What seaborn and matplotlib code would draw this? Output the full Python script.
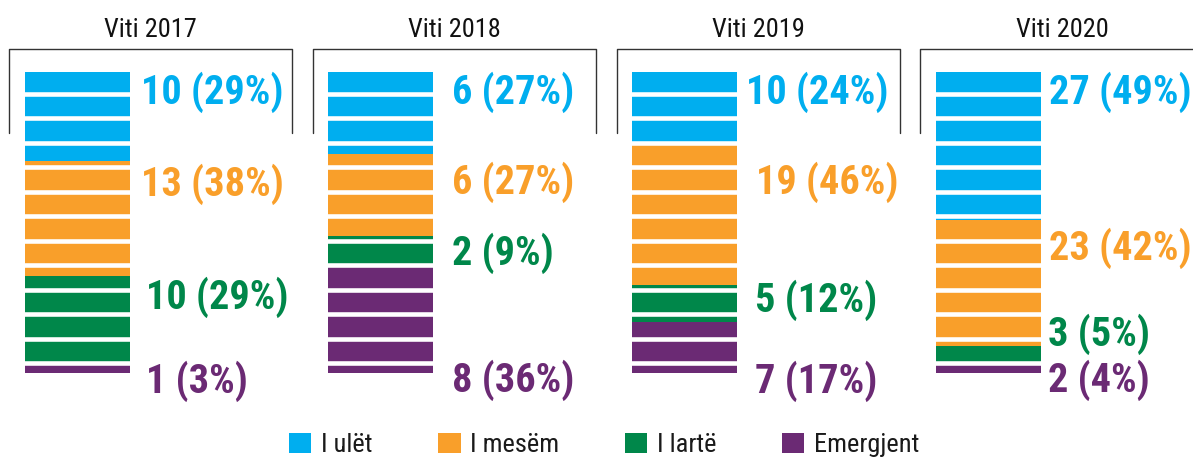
import matplotlib
matplotlib.use("Agg")
import matplotlib.pyplot as plt
import seaborn as sns
import pandas as pd
from matplotlib import font_manager

# data
years = ["Viti 2017", "Viti 2018", "Viti 2019", "Viti 2020"]
levels = ["I ulët", "I mesëm", "I lartë", "Emergjent"]
counts_2017 = [10, 13, 10, 1]
counts_2018 = [6, 6, 2, 8]
counts_2019 = [10, 19, 5, 7]
counts_2020 = [27, 23, 3, 2]
colors = ["#00aeef", "#f99f2a", "#00874a", "#6b2a74"]

# label layout (pixel centres / offsets from bar edge)
label_py = [[92, 184, 297, 381], [92, 182, 253, 380], [92, 182, 300, 381], [92, 248, 334, 380]]
label_dx = [[11, 11, 16, 16], [19, 19, 19, 19], [9, 19, 18, 18], [8, 8, 7, 7]]

W, H = 1193, 459
X0, STEP = 77.3, 303.7       # bar centre of first panel, panel pitch (px)
TOP, BOT = 72, 373           # bar top / bottom (px)
BAR_W = 105

sns.set_theme(style="white")
names = {f.name for f in font_manager.fontManager.ttflist}
font = "DejaVu Sans"
for cand in ["Liberation Sans Narrow", "Roboto Condensed", "Liberation Sans"]:
    if cand in names:
        font = cand
        break
plt.rcParams["font.family"] = [font, "DejaVu Sans"]

rows = []
for i, counts in enumerate([counts_2017, counts_2018, counts_2019, counts_2020]):
    for lev, c in zip(levels, counts):
        rows.append({"pos": i, "year": years[i], "level": lev, "count": c})
df = pd.DataFrame(rows)

fig = plt.figure(figsize=(W / 100, H / 100), dpi=100)
ax = fig.add_axes([0, (H - BOT) / H, 1, (BOT - TOP) / H])

sns.histplot(data=df, x="pos", hue="level", weights="count", multiple="fill",
             discrete=True, shrink=BAR_W / STEP, hue_order=levels,
             palette=dict(zip(levels, colors)), alpha=1, linewidth=0,
             edgecolor="none", ax=ax)

ax.set_xlim(-X0 / STEP, (W - X0) / STEP)
ax.set_ylim(0, 1)
ax.axis("off")


def px_x(px):
    return (px - X0) / STEP


def px_y(py):
    return (BOT - py) / (BOT - TOP)


# white stripes across the bars
for k in range(12):
    y = px_y(93.8 + 24.5 * k)
    for i in range(4):
        c = X0 + STEP * i
        ax.hlines(y, px_x(c - BAR_W / 2 - 1), px_x(c + BAR_W / 2 + 1),
                  color="white", linewidth=3.3, zorder=3)

# panel frames and titles
for i, year in enumerate(years):
    c = X0 + STEP * i
    left, right = c - 68, c - 68 + 283
    ax.plot([px_x(left), px_x(left), px_x(right), px_x(right)],
            [px_y(133), px_y(49.5), px_y(49.5), px_y(133)],
            color="#333333", linewidth=1.0, clip_on=False, zorder=5)
    ax.text(px_x((left + right) / 2), px_y(37), year, ha="center", va="baseline",
            fontsize=19, color="#111111", clip_on=False)

    counts = [counts_2017, counts_2018, counts_2019, counts_2020][i]
    total = sum(counts)
    for j, n in enumerate(counts):
        pct = round(100 * n / total)
        ax.text(px_x(c + BAR_W / 2 + label_dx[i][j]), px_y(label_py[i][j]),
                f"{n} ({pct}%)", ha="left", va="center", fontsize=29,
                fontweight="bold", color=colors[j], clip_on=False, zorder=6)

sns.move_legend(ax, "center", bbox_to_anchor=(604 / W, 1 - 445 / H),
                bbox_transform=fig.transFigure, ncol=4, frameon=False, title=None,
                fontsize=19, handlelength=0.85, handleheight=0.8,
                handletextpad=0.35, columnspacing=2.5)
for t in ax.get_legend().get_texts():
    t.set_color("#1a1a1a")

fig.savefig("out.png", dpi=100)
